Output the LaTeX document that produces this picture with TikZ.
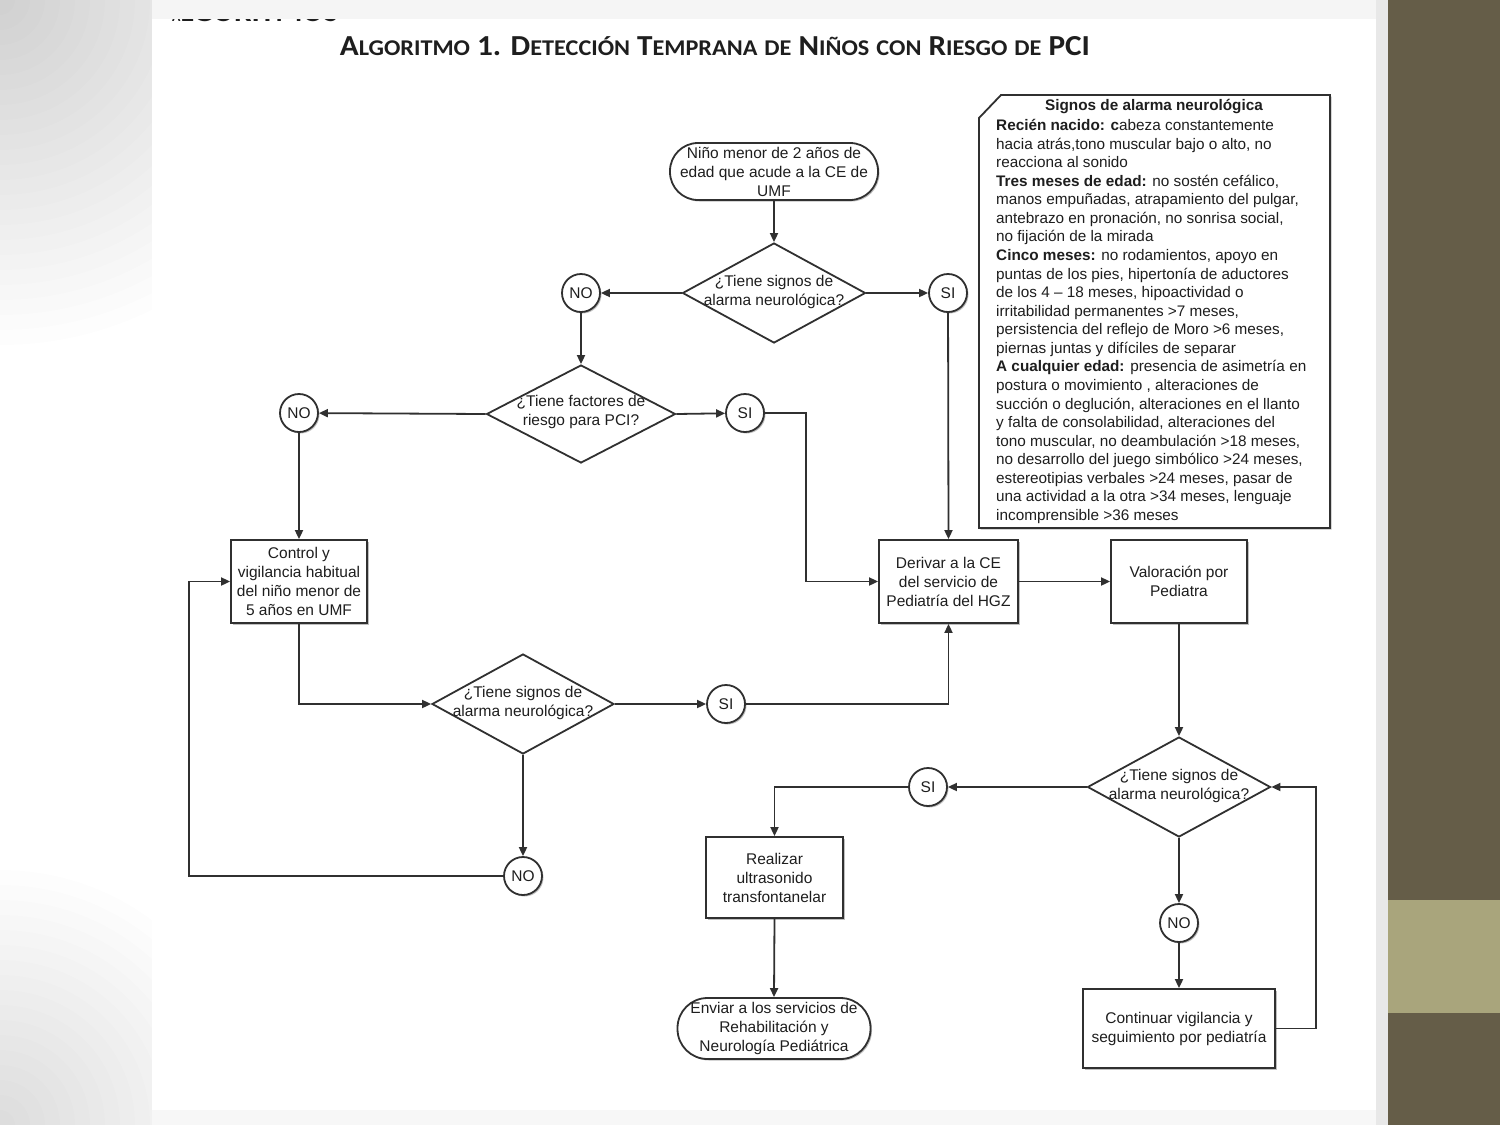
\documentclass[tikz,border=0pt]{standalone}
\usepackage{fontspec}
\setmainfont{Liberation Sans}
\newfontfamily\titlefont{Carlito}
\usetikzlibrary{arrows.meta,shapes.geometric,shadows,calc}
\definecolor{ln}{HTML}{303030}
\definecolor{tx}{HTML}{1E1E1E}
\definecolor{olivedk}{HTML}{655D48}
\definecolor{olivelt}{HTML}{A9A57C}
\newcommand\fcfont{\fontsize{15.5}{19}\selectfont}
\newcommand\infofont{\fontsize{15.3}{18.6}\selectfont}
\newcommand\tsc[2]{#1{\fontsize{22.5}{23}\selectfont #2}}
\newcommand\tsm[1]{{\fontsize{22.5}{23}\selectfont #1}}
\tikzset{
  conn/.style={draw=ln, line width=1.8pt, -{Triangle[length=9pt,width=8pt]}},
  shad/.style={drop shadow={shadow xshift=1.5pt,shadow yshift=-1.5pt,fill=black,opacity=0.25}},
  procbox/.style={draw=ln, line width=1.8pt, fill=white, align=center, font=\fcfont, text=tx, inner sep=0pt, shad},
  term/.style={procbox, rounded corners=28pt},
  dia/.style={draw=ln, line width=1.8pt, diamond, inner sep=0pt, fill=white},
  diatext/.style={align=center, font=\fcfont, text=tx, inner sep=0pt},
  yn/.style={circle, draw=ln, line width=1.8pt, minimum size=38pt, inner sep=0pt, font=\fcfont, text=tx, fill=white, shad},
  infoline/.style={anchor=base west, inner sep=0pt, font=\infofont, text=tx},
}
\begin{document}
\begin{tikzpicture}[x=1pt,y=-1pt]
\useasboundingbox (0,0) rectangle (1500,1125);
% background
\fill[white] (0,0) rectangle (1500,1125);
\foreach \r in {15,30,...,345} \fill[black, opacity=0.008] (0,0) circle (\r);
\foreach \r in {15,30,...,255} \fill[black, opacity=0.008] (0,1125) circle (\r);
% page
\fill[white] (152,19) rectangle (1376,1110);
% cut-off header (only its lowest edge shows below the top band)
\node[anchor=base west, inner sep=0pt, text=tx] (hdr) at (172,21.5)
  {\resizebox{166pt}{!}{\titlefont\bfseries \tsc{A}{LGORITMOS}}};
\fill[black!4] (152,0) rectangle (1376,18.5);
\fill[black!3] (152,1110) rectangle (1376,1125);
\fill[black!9] (1376,0) rectangle (1388,1125);
\fill[olivedk] (1388,0) rectangle (1500,1125);
\fill[olivelt] (1388,900) rectangle (1500,1013);
% title
\node[anchor=base, inner sep=0pt, text=tx] (title) at (715,55)
  {\resizebox{750pt}{\height}{\titlefont\bfseries\fontsize{29}{30}\selectfont \tsc{A}{LGORITMO} 1. \tsc{D}{ETECCIÓN} \tsc{T}{EMPRANA} \tsm{DE} \tsc{N}{IÑOS} \tsm{CON} \tsc{R}{IESGO} \tsm{DE} PCI}};

% info box
\draw[draw=ln, line width=1.8pt, fill=white, shad] (1001,95) -- (1330,95) -- (1330,528) -- (979,528) -- (979,118) -- cycle;
\node[inner sep=0pt, font=\infofont\bfseries, text=tx] (infotitle) at (1154,107) {Signos de alarma neurológica};
\foreach \t [count=\i] in {
  {\textbf{Recién nacido: c}abeza constantemente},
  {hacia atrás,tono muscular bajo o alto, no},
  {reacciona al sonido},
  {\textbf{Tres meses de edad:} no sostén cefálico,},
  {manos empuñadas, atrapamiento del pulgar,},
  {antebrazo en pronación, no sonrisa social,},
  {no fijación de la mirada},
  {\textbf{Cinco meses:} no rodamientos, apoyo en},
  {puntas de los pies, hipertonía de aductores},
  {de los 4 – 18 meses, hipoactividad o},
  {irritabilidad permanentes >7 meses,},
  {persistencia del reflejo de Moro >6 meses,},
  {piernas juntas y difíciles de separar},
  {\textbf{A cualquier edad:} presencia de asimetría en},
  {postura o movimiento , alteraciones de},
  {succión o deglución, alteraciones en el llanto},
  {y falta de consolabilidad, alteraciones del},
  {tono muscular, no deambulación >18 meses,},
  {no desarrollo del juego simbólico >24 meses,},
  {estereotipias verbales >24 meses, pasar de},
  {una actividad a la otra >34 meses, lenguaje},
  {incomprensible >36 meses}}
  \node[infoline] (info\i) at (996,{130.5+(\i-1)*18.57}) {\t};

% nodes
\node[term, minimum width=208pt, minimum height=57pt] (start) at (774,171.5)
  {Niño menor de 2 años de\\edad que acude a la CE de\\UMF};
\node[dia, minimum width=183pt, minimum height=100pt] (d1) at (774,293) {};
\node[diatext] (d1t) at (774,292) {¿Tiene signos de\\alarma neurológica?};
\node[yn] (no1) at (581,293) {NO};
\node[yn] (si1) at (948,293) {SI};

\node[dia, minimum width=189pt, minimum height=98pt] (d2) at (581,414) {};
\node[diatext] (d2t) at (581,412) {¿Tiene factores de\\riesgo para PCI?};
\node[yn] (no2) at (299,413) {NO};
\node[yn] (si2) at (745,413) {SI};

\node[procbox, minimum width=136pt, minimum height=83pt] (ctrl) at (299,581.5)
  {Control y\\vigilancia habitual\\del niño menor de\\5 años en UMF};
\node[procbox, minimum width=139pt, minimum height=83pt] (deriv) at (948.5,581.5)
  {Derivar a la CE\\del servicio de\\Pediatría del HGZ};
\node[procbox, minimum width=136pt, minimum height=83pt] (val) at (1179,581.5)
  {Valoración por\\Pediatra};

\node[dia, minimum width=182pt, minimum height=100pt] (d3) at (523,704) {};
\node[diatext] (d3t) at (523,703) {¿Tiene signos de\\alarma neurológica?};
\node[yn] (si3) at (726,704) {SI};
\node[yn] (no3) at (523,876) {NO};

\node[dia, minimum width=183pt, minimum height=100pt] (d4) at (1179,787) {};
\node[diatext] (d4t) at (1179,786) {¿Tiene signos de\\alarma neurológica?};
\node[yn] (si4) at (928,787) {SI};
\node[yn] (no4) at (1179,923) {NO};

\node[procbox, minimum width=137pt, minimum height=81pt] (real) at (774.5,877.5)
  {Realizar\\ultrasonido\\transfontanelar};
\node[term, rounded corners=30pt, minimum width=193pt, minimum height=61pt] (env) at (774,1028.5)
  {Enviar a los servicios de\\Rehabilitación y\\Neurología Pediátrica};
\node[procbox, minimum width=192pt, minimum height=79pt] (cont) at (1179,1028.5)
  {Continuar vigilancia y\\seguimiento por pediatría};

\coordinate (k1) at (806,581.5);
\coordinate (k2) at (189,876);
\coordinate (k3) at (1316,1028.5);

% connectors
\draw[conn] (start) -- (d1.north);
\draw[conn] (d1.west) -- (no1);
\draw[conn] (d1.east) -- (si1);
\draw[conn] (no1) -- (d2.north);
\draw[conn] (si1) -- (deriv.north);
\draw[conn] (d2.west) -- (no2);
\draw[conn] (d2.east) -- (si2);
\draw[conn] (no2) -- (ctrl.north);
\draw[conn] (si2.east) -| (k1) -- (deriv.west);
\draw[conn] (ctrl.south) |- (d3.west);
\draw[conn] (d3.east) -- (si3);
\draw[conn] (si3.east) -| (deriv.south);
\draw[conn] (d3.south) -- (no3);
\draw[conn] (no3.west) -- (k2) |- (ctrl.west);
\draw[conn] (deriv.east) -- (val.west);
\draw[conn] (val.south) -- (d4.north);
\draw[conn] (d4.west) -- (si4);
\draw[conn] (si4.west) -| (real.north);
\draw[conn] (real.south) -- (env.north);
\draw[conn] (d4.south) -- (no4);
\draw[conn] (no4) -- (cont.north);
\draw[conn] (cont.east) -- (k3) |- (d4.east);
\end{tikzpicture}
\end{document}
